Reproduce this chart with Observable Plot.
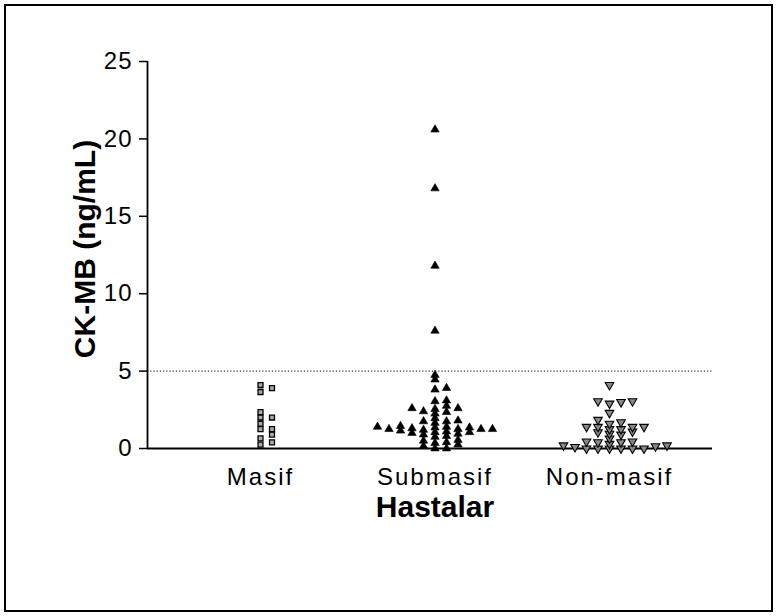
<!DOCTYPE html>
<html>
<head>
<meta charset="utf-8">
<script src="https://cdn.jsdelivr.net/npm/d3@7"></script>
<script src="https://cdn.jsdelivr.net/npm/@observablehq/plot@0.6"></script>
<style>
  html, body { margin: 0; padding: 0; background: #fff; }
  #wrap { position: relative; width: 777px; height: 616px; }
  #border { position: absolute; left: 4px; top: 4px; width: 765px; height: 604px; border: 2px solid #000; pointer-events: none; }
  svg { position: absolute; left: 0; top: 0; }
  g[aria-label="x-axis tick label"] text { letter-spacing: 2px; }
  g[aria-label="y-axis tick label"] text { letter-spacing: 1px; }
  g[aria-label="ylabel"] text { letter-spacing: 2.3px; }
</style>
</head>
<body>
<div id="wrap"><div id="border"></div></div>
<script>
// ---- data ----
const groups = ["Masif", "Submasif", "Non-masif"];
const masif = [4.1, 3.9, 3.65, 2.35, 2.0, 2.0, 1.6, 1.25, 1.25, 0.9, 0.65, 0.4, 0.25];
const submasif = [20.6, 16.8, 11.8, 7.6, 4.75, 4.45, 3.9, 3.8, 3.1, 3.05, 2.75, 2.6, 2.6, 2.55,
  2.4, 2.35, 2.25, 1.95, 1.8, 1.75, 1.75, 1.65, 1.45, 1.4, 1.4, 1.35, 1.35, 1.3, 1.25, 1.25,
  1.25, 1.25, 1.2, 1.15, 1.1, 1.05, 1.05, 1.0, 0.95, 0.9, 0.8, 0.75, 0.55, 0.5, 0.4, 0.35,
  0.25, 0.15, 0, 0];
const nonmasif = [4.1, 3.05, 3.0, 2.9, 3.05, 2.3, 1.85, 1.7, 1.6, 1.4, 1.4, 1.4, 1.4, 1.25,
  1.25, 1.1, 1.05, 0.95, 0.9, 0.65, 0.45, 0.45, 0.4, 0.4, 0.3, 0.2, 0.2, 0.15, 0.1,
  0, 0, 0, 0, 0, 0];
const yTicks = [0, 5, 10, 15, 20, 25];
const cutoff = 5;

// ---- layout ----
const W = 777, H = 616;
const mL = 147, mR = 65, mT = 61, mB = 168;
const pxPerGroup = 174.5;               // distance between column centres
const xDomain = [(mL - 260) / pxPerGroup, (W - mR - 260) / pxPerGroup];
const yDomain = [0, 25];
const pxPerUnitY = (H - mT - mB) / (yDomain[1] - yDomain[0]);
const colStep = 11.5 / pxPerGroup;       // horizontal step between neighbours (x units)
const rowGap = 4.6 / pxPerUnitY;         // vertical distance at which symbols collide (y units)

// column-scatter arrangement (like GraphPad): spread colliding points sideways
function scatter(values, gi) {
  const pts = values.map(v => ({v})).sort((a, b) => a.v - b.v);
  const cands = [0];
  for (let k = 1; k <= 40; k++) { cands.push(k * 0.5, -k * 0.5); }
  const placed = [];
  for (const p of pts) {
    for (const c of cands) {
      const hit = placed.some(q => Math.abs(q.v - p.v) < rowGap && Math.abs(q.o - c) < 1);
      if (!hit) { p.o = c; placed.push(p); break; }
    }
  }
  return placed.map(p => ({x: gi + p.o * colStep, y: p.v}));
}
const dMasif = scatter(masif, 0);
const dSub = scatter(submasif, 1);
const dNon = scatter(nonmasif, 2);

const font = "'Liberation Sans', Arial, sans-serif";

const chart = Plot.plot({
  width: W,
  height: H,
  marginLeft: mL,
  marginRight: mR,
  marginTop: mT,
  marginBottom: mB,
  style: {fontFamily: font, color: "#000", background: "transparent", overflow: "visible"},
  x: {domain: xDomain, axis: null},
  y: {domain: yDomain, axis: null},
  marks: [
    Plot.ruleY([cutoff], {stroke: "#000", strokeWidth: 1, strokeDasharray: "1.2,2"}),
    Plot.axisY({ticks: yTicks, tickSize: 8, tickPadding: 7, fontSize: 24, label: null, strokeWidth: 1.5}),
    Plot.ruleX([xDomain[0]], {y1: yDomain[0], y2: yDomain[1], stroke: "#000", strokeWidth: 1.8}),
    Plot.ruleY([0], {stroke: "#000", strokeWidth: 1.8}),
    Plot.axisX({ticks: [0, 1, 2], tickFormat: i => groups[i], tickSize: 0, tickPadding: 19, fontSize: 24, label: null}),
    Plot.dot(dMasif, {x: "x", y: "y", symbol: "square", r: 2.8, fill: "#aaa", stroke: "#000", strokeWidth: 1.3}),
    Plot.dot(dSub, {x: "x", y: "y", symbol: "triangle", r: 3.1, fill: "#000", stroke: "#000", strokeWidth: 0.6}),
    Plot.dot(dNon, {x: "x", y: "y", symbol: "triangle", rotate: 180, r: 3.2, fill: "#888", stroke: "#000", strokeWidth: 1.1}),
    Plot.text(["CK-MB (ng/mL)"], {ariaLabel: "ylabel", frameAnchor: "left", textAnchor: "middle", lineAnchor: "middle", dx: -62, dy: -6, rotate: -90, fontSize: 30, fontWeight: "bold", fill: "#000"}),
    Plot.text(["Hastalar"], {frameAnchor: "bottom", textAnchor: "middle", lineAnchor: "middle", dx: 5, dy: 59, fontSize: 30, fontWeight: "bold", fill: "#000"})
  ]
});
document.getElementById("wrap").prepend(chart);
</script>
</body>
</html>
